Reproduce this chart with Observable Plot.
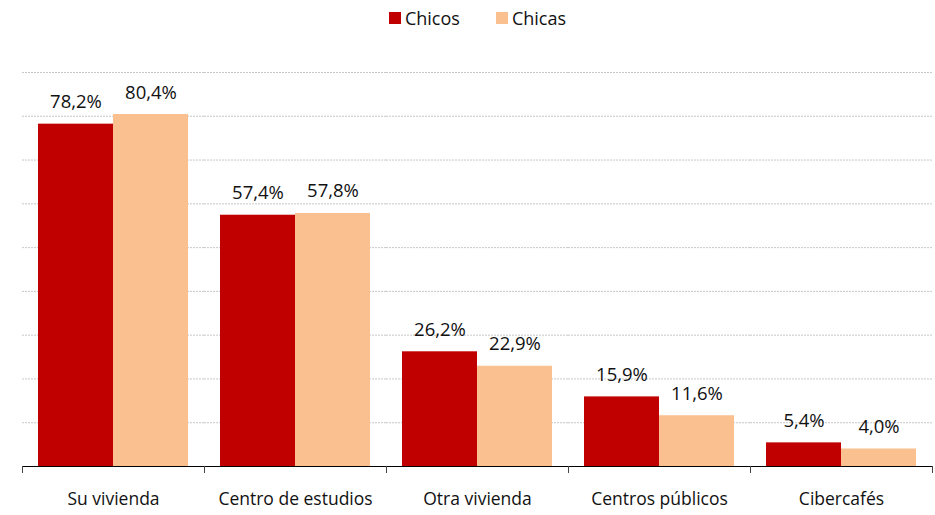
<!DOCTYPE html>
<html>
<head>
<meta charset="utf-8">
<script src="https://cdn.jsdelivr.net/npm/d3@7"></script>
<script src="https://cdn.jsdelivr.net/npm/@observablehq/plot@0.6"></script>
<style>
  body { margin: 0; background: #fff; font-family: "Open Sans", Lato, sans-serif; }
  #legend { height: 35px; display: flex; justify-content: center; align-items: center; gap: 36px; padding-left: 20px; font-size: 18px; color: #111; }
  #legend .item { display: flex; align-items: center; gap: 4px; }
  #legend .sw { width: 12px; height: 12px; display: inline-block; }
</style>
</head>
<body>
<div id="legend"></div>
<div id="chart"></div>
<script>
const categories = ["Su vivienda", "Centro de estudios", "Otra vivienda", "Centros públicos", "Cibercafés"];
const series = ["Chicos", "Chicas"];
const chicos = [78.2, 57.4, 26.2, 15.9, 5.4];
const chicas = [80.4, 57.8, 22.9, 11.6, 4.0];
const gridValues = [10, 20, 30, 40, 50, 60, 70, 80, 90];
const colors = ["#C00000", "#FAC090"];

const data = [];
categories.forEach((c, i) => {
  data.push({cat: c, serie: "Chicos", value: chicos[i]});
  data.push({cat: c, serie: "Chicas", value: chicas[i]});
});
const fmt = v => v.toFixed(1).replace(".", ",") + "%";

const legend = document.getElementById("legend");
series.forEach((s, i) => {
  const it = document.createElement("span");
  it.className = "item";
  it.innerHTML = `<span class="sw" style="background:${colors[i]}"></span><span>${s}</span>`;
  legend.appendChild(it);
});

const chart = Plot.plot({
  width: 935,
  height: 480,
  marginTop: 37,
  marginBottom: 49,
  marginLeft: 21,
  marginRight: 3,
  style: {fontFamily: "'Open Sans', Lato, sans-serif", fontSize: "17.5px", color: "#111", background: "#fff"},
  fx: {domain: categories, padding: 0, label: null, tickSize: 0, tickPadding: 26},
  x: {domain: series, paddingInner: 0, paddingOuter: 0.2, axis: null},
  y: {domain: [0, 90], axis: null},
  color: {domain: series, range: colors},
  marks: [
    Plot.ruleY(gridValues, {stroke: "#c8c8c8", strokeDasharray: "2,1", strokeWidth: 1}),
    Plot.barY(data, {fx: "cat", x: "serie", y: "value", fill: "serie"}),
    Plot.text(data, {fx: "cat", x: "serie", y: "value", text: d => fmt(d.value), dy: -16, lineAnchor: "bottom", fill: "#111", fontSize: 18.5}),
    Plot.ruleY([0], {stroke: "#000", strokeWidth: 1.2}),
    Plot.frame({anchor: "left", insetTop: 394, insetBottom: -6, stroke: "#444"}),
    Plot.frame({anchor: "right", insetTop: 394, insetBottom: -6, stroke: "#444"})
  ]
});
document.getElementById("chart").appendChild(chart);
</script>
</body>
</html>
